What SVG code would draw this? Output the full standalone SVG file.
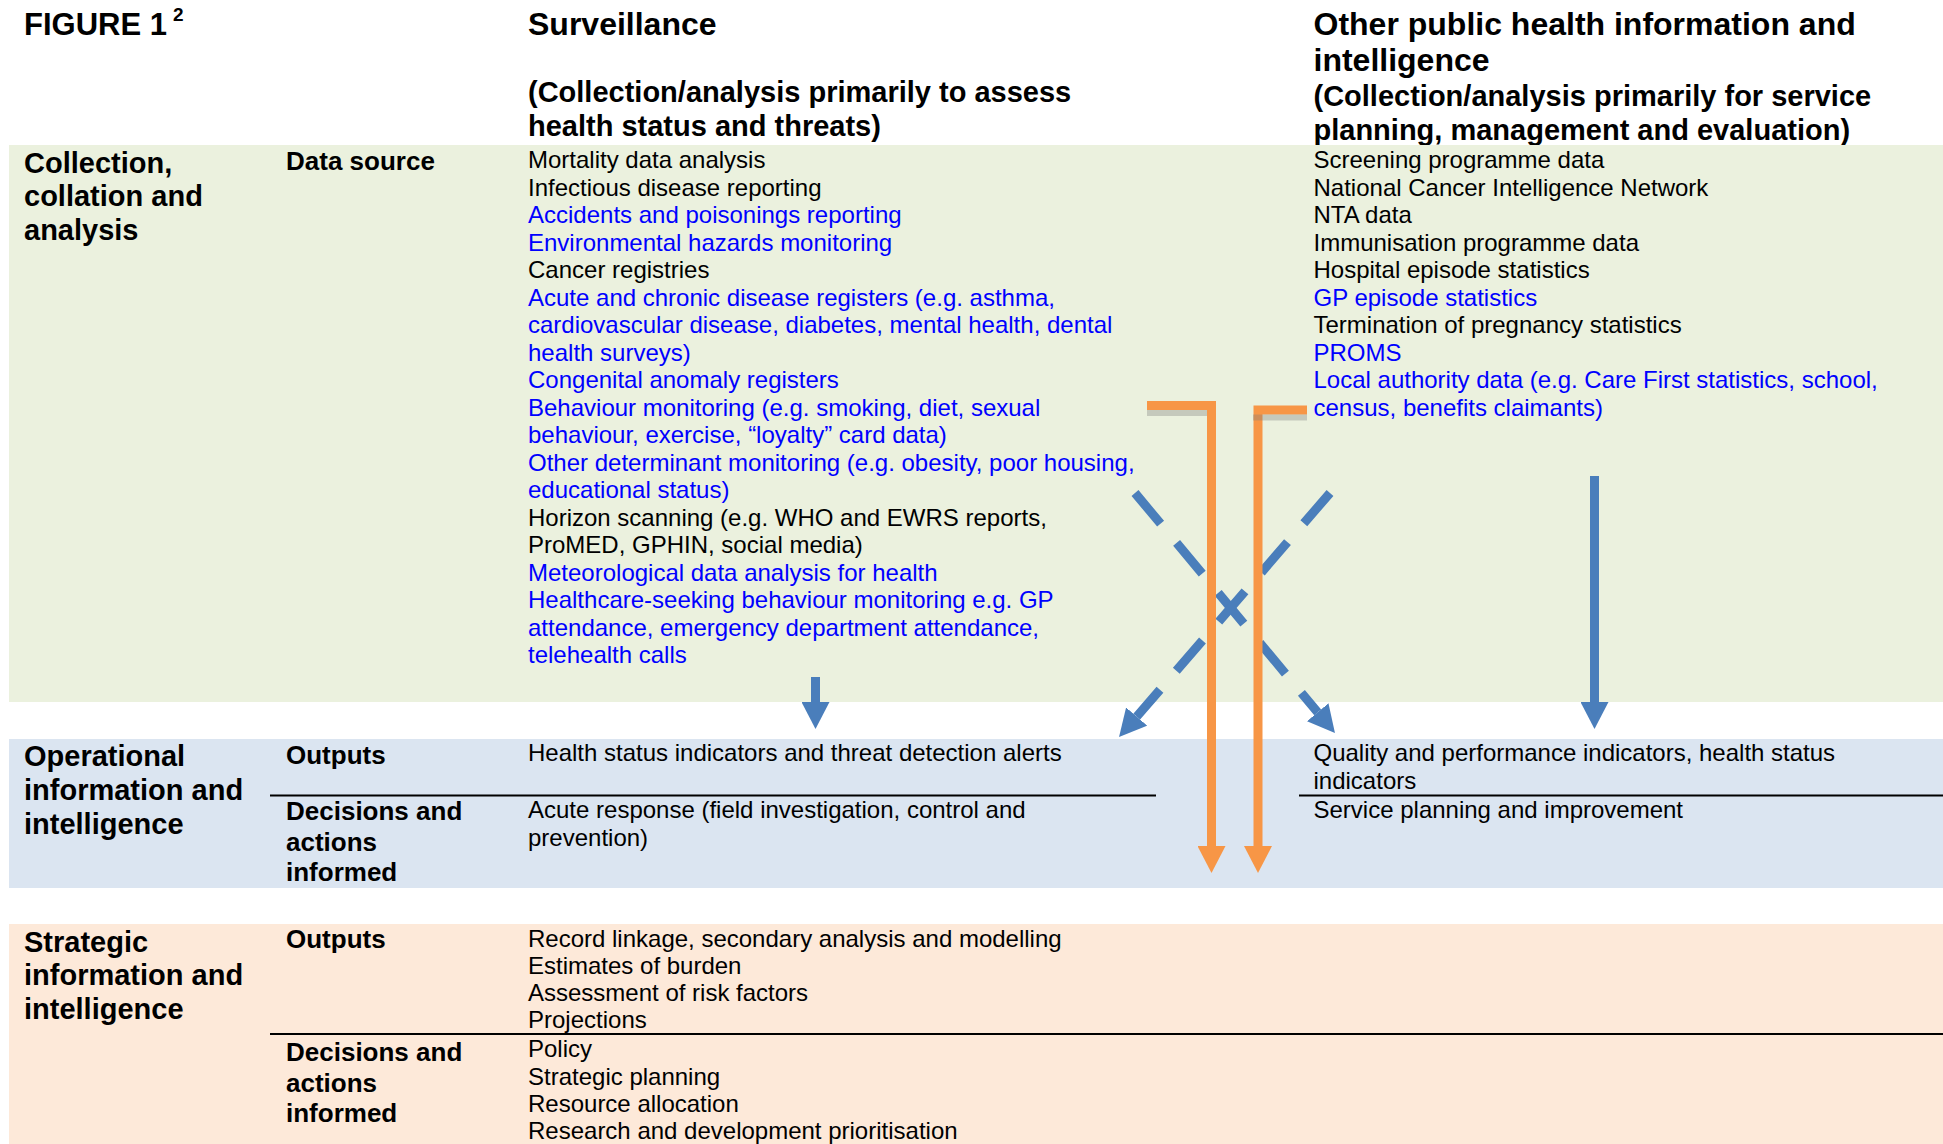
<svg xmlns="http://www.w3.org/2000/svg" width="1943" height="1144" viewBox="0 0 1943 1144">
<style>
  text { font-family: "Liberation Sans", Arial, sans-serif; }
  .title { font-size: 32px; font-weight: bold; fill: #000; }
  .sub { font-size: 29px; font-weight: bold; fill: #000; }
  .row { font-size: 29px; font-weight: bold; fill: #000; }
  .col { font-size: 26px; font-weight: bold; fill: #000; }
  .b { font-size: 24px; fill: #000; }
  .u { font-size: 24px; fill: #0000ff; }
  .sep { stroke: #000; stroke-width: 2; }
  .blue { stroke: #4a7ebb; stroke-width: 9; fill: none; }
  .dash { stroke: #4a7ebb; stroke-width: 9; fill: none; stroke-dasharray: 40 25; }
  .orange { stroke: #f79646; stroke-width: 9; fill: none; stroke-linejoin: miter; }
  .shadow { fill: #7f7f7f; fill-opacity: 0.35; }
</style>
<defs>
  <marker id="headBlue" markerUnits="userSpaceOnUse" markerWidth="27" markerHeight="28" viewBox="0 0 27 28" refX="0" refY="14" orient="auto">
    <path d="M0,0 L27,14 L0,28 Z" fill="#4a7ebb"/>
  </marker>
  <marker id="headOrange" markerUnits="userSpaceOnUse" markerWidth="27" markerHeight="28" viewBox="0 0 27 28" refX="0" refY="14" orient="auto">
    <path d="M0,0 L27,14 L0,28 Z" fill="#f79646"/>
  </marker>
</defs>
<rect width="1943" height="1144" fill="#ffffff"/>

<g id="header">
  <text class="sub" x="24" y="34.5" style="font-size:31px">FIGURE 1<tspan x="173" y="21" style="font-size:19px">2</tspan></text>
  <text class="title" x="528" y="34.5">Surveillance</text>
  <text class="sub" x="528" y="102">(Collection/analysis primarily to assess</text>
  <text class="sub" x="528" y="135.5">health status and threats)</text>
  <text class="title" x="1313.5" y="34.5">Other public health information and</text>
  <text class="title" x="1313.5" y="70.5">intelligence</text>
  <text class="sub" x="1313.5" y="106">(Collection/analysis primarily for service</text>
  <text class="sub" x="1313.5" y="139.5">planning, management and evaluation)</text>
</g>

<g id="collection-band">
  <rect x="9" y="145" width="1934" height="557" fill="#ebf1de"/>
  <text class="row" x="24" y="172.5">Collection,</text>
  <text class="row" x="24" y="206">collation and</text>
  <text class="row" x="24" y="239.5">analysis</text>
  <text class="col" x="286" y="170">Data source</text>
</g>

<g id="surveillance-sources">
  <text class="b" x="528" y="168">Mortality data analysis</text>
  <text class="b" x="528" y="195.5">Infectious disease reporting</text>
  <text class="u" x="528" y="223">Accidents and poisonings reporting</text>
  <text class="u" x="528" y="250.5">Environmental hazards monitoring</text>
  <text class="b" x="528" y="278">Cancer registries</text>
  <text class="u" x="528" y="305.5">Acute and chronic disease registers (e.g. asthma,</text>
  <text class="u" x="528" y="333">cardiovascular disease, diabetes, mental health, dental</text>
  <text class="u" x="528" y="360.5">health surveys)</text>
  <text class="u" x="528" y="388">Congenital anomaly registers</text>
  <text class="u" x="528" y="415.5">Behaviour monitoring (e.g. smoking, diet, sexual</text>
  <text class="u" x="528" y="443">behaviour, exercise, “loyalty” card data)</text>
  <text class="u" x="528" y="470.5">Other determinant monitoring (e.g. obesity, poor housing,</text>
  <text class="u" x="528" y="498">educational status)</text>
  <text class="b" x="528" y="525.5">Horizon scanning (e.g. WHO and EWRS reports,</text>
  <text class="b" x="528" y="553">ProMED, GPHIN, social media)</text>
  <text class="u" x="528" y="580.5">Meteorological data analysis for health</text>
  <text class="u" x="528" y="608">Healthcare-seeking behaviour monitoring e.g. GP</text>
  <text class="u" x="528" y="635.5">attendance, emergency department attendance,</text>
  <text class="u" x="528" y="663">telehealth calls</text>
</g>

<g id="other-sources">
  <text class="b" x="1313.5" y="168">Screening programme data</text>
  <text class="b" x="1313.5" y="195.5">National Cancer Intelligence Network</text>
  <text class="b" x="1313.5" y="223">NTA data</text>
  <text class="b" x="1313.5" y="250.5">Immunisation programme data</text>
  <text class="b" x="1313.5" y="278">Hospital episode statistics</text>
  <text class="u" x="1313.5" y="305.5">GP episode statistics</text>
  <text class="b" x="1313.5" y="333">Termination of pregnancy statistics</text>
  <text class="u" x="1313.5" y="360.5">PROMS</text>
  <text class="u" x="1313.5" y="388">Local authority data (e.g. Care First statistics, school,</text>
  <text class="u" x="1313.5" y="415.5">census, benefits claimants)</text>
</g>

<g id="operational-band">
  <rect x="9" y="739" width="1934" height="149" fill="#dbe5f1"/>
  <text class="row" x="24" y="766">Operational</text>
  <text class="row" x="24" y="800">information and</text>
  <text class="row" x="24" y="834">intelligence</text>
  <text class="col" x="286" y="764">Outputs</text>
  <text class="col" x="286" y="820">Decisions and</text>
  <text class="col" x="286" y="851">actions</text>
  <text class="col" x="286" y="881">informed</text>
  <line class="sep" x1="270" y1="795.5" x2="1156" y2="795.5"/>
  <line class="sep" x1="1299" y1="795.5" x2="1943" y2="795.5"/>
</g>

<g id="operational-surveillance">
  <text class="b" x="528" y="761">Health status indicators and threat detection alerts</text>
  <text class="b" x="528" y="818">Acute response (field investigation, control and</text>
  <text class="b" x="528" y="845.5">prevention)</text>
</g>

<g id="operational-other">
  <text class="b" x="1313.5" y="760.5">Quality and performance indicators, health status</text>
  <text class="b" x="1313.5" y="788.5">indicators</text>
  <text class="b" x="1313.5" y="818">Service planning and improvement</text>
</g>

<g id="strategic-band">
  <rect x="9" y="924" width="1934" height="220" fill="#fde9d9"/>
  <text class="row" x="24" y="951.5">Strategic</text>
  <text class="row" x="24" y="985">information and</text>
  <text class="row" x="24" y="1019">intelligence</text>
  <text class="col" x="286" y="948">Outputs</text>
  <text class="col" x="286" y="1061">Decisions and</text>
  <text class="col" x="286" y="1092">actions</text>
  <text class="col" x="286" y="1122">informed</text>
  <line class="sep" x1="270" y1="1034" x2="1943" y2="1034"/>
</g>

<g id="strategic-content">
  <text class="b" x="528" y="947">Record linkage, secondary analysis and modelling</text>
  <text class="b" x="528" y="974">Estimates of burden</text>
  <text class="b" x="528" y="1001">Assessment of risk factors</text>
  <text class="b" x="528" y="1028">Projections</text>
  <text class="b" x="528" y="1057">Policy</text>
  <text class="b" x="528" y="1084.5">Strategic planning</text>
  <text class="b" x="528" y="1111.5">Resource allocation</text>
  <text class="b" x="528" y="1139">Research and development prioritisation</text>
</g>

<g id="connectors">
  <line class="blue" x1="815.5" y1="677" x2="815.5" y2="702" marker-end="url(#headBlue)"/>
  <line class="blue" x1="1594.5" y1="476" x2="1594.5" y2="702" marker-end="url(#headBlue)"/>
  <path class="dash" d="M1135,493 L1317.7,712.3" marker-end="url(#headBlue)"/>
  <path class="dash" d="M1330,493 L1136.7,716.6" marker-end="url(#headBlue)"/>
  <rect class="shadow" x="1147" y="410" width="60" height="6"/>
  <path class="orange" d="M1147,405.5 H1211.5 V846" marker-end="url(#headOrange)"/>
  <path class="orange" d="M1307,410 H1258 V846" marker-end="url(#headOrange)"/>
  <rect class="shadow" x="1253" y="414.5" width="54" height="6"/>
</g>
</svg>
